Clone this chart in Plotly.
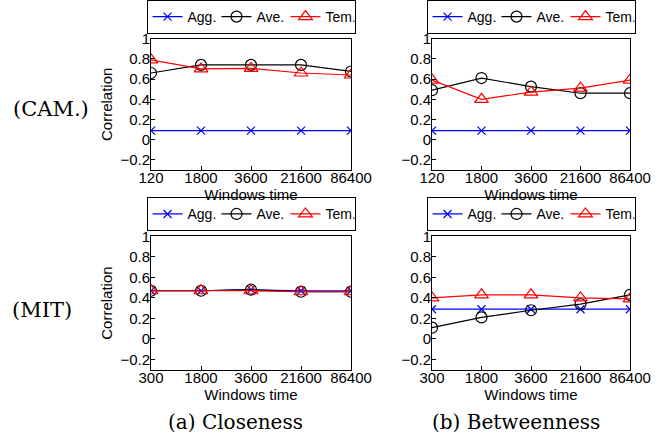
import plotly.graph_objects as go

windows_cam = ["120", "1800", "3600", "21600", "86400"]
windows_mit = ["300", "1800", "3600", "21600", "86400"]

# CAM closeness
cam_clo_agg = [0.09, 0.09, 0.09, 0.09, 0.09]
cam_clo_ave = [0.66, 0.74, 0.74, 0.74, 0.675]
cam_clo_tem = [0.79, 0.70, 0.705, 0.66, 0.64]
# CAM betweenness
cam_bet_agg = [0.09, 0.09, 0.09, 0.09, 0.09]
cam_bet_ave = [0.49, 0.61, 0.525, 0.46, 0.46]
cam_bet_tem = [0.59, 0.40, 0.47, 0.51, 0.59]
# MIT closeness
mit_clo_agg = [0.47, 0.47, 0.48, 0.47, 0.47]
mit_clo_ave = [0.47, 0.47, 0.48, 0.46, 0.46]
mit_clo_tem = [0.47, 0.47, 0.47, 0.46, 0.46]
# MIT betweenness
mit_bet_agg = [0.29, 0.29, 0.29, 0.29, 0.29]
mit_bet_ave = [0.11, 0.21, 0.28, 0.34, 0.43]
mit_bet_tem = [0.40, 0.43, 0.43, 0.40, 0.39]

ytick_vals = [-0.2, 0, 0.2, 0.4, 0.6, 0.8, 1]
ytick_text = ["\u22120.2", "0", "0.2", "0.4", "0.6", "0.8", "1"]

series_names = ["Agg.", "Ave.", "Tem."]
colors = ["#0000ff", "#000000", "#ff0000"]
symbols = ["x-thin-open", "circle-open", "triangle-up-open"]
sizes = [8, 11, 12]

FONT = "Liberation Sans, Arial, sans-serif"
SERIF = "DejaVu Serif, serif"

panels = [
    (windows_cam, [cam_clo_agg, cam_clo_ave, cam_clo_tem]),
    (windows_cam, [cam_bet_agg, cam_bet_ave, cam_bet_tem]),
    (windows_mit, [mit_clo_agg, mit_clo_ave, mit_clo_tem]),
    (windows_mit, [mit_bet_agg, mit_bet_ave, mit_bet_tem]),
]

W, H = 663, 436
xdom = [(151 / W, 351 / W), (432 / W, 630 / W)]
ydom = [(1 - 167 / H, 1 - 34 / H), (1 - 369 / H, 1 - 234 / H)]
legend_bottom = [1 - 29 / H, 1 - 229 / H]

fig = go.Figure()
layout = dict(
    template="none",
    width=W, height=H, margin=dict(l=0, r=0, t=0, b=0, pad=0),
    paper_bgcolor="white", plot_bgcolor="white",
    font=dict(family=FONT, size=14, color="black"),
    showlegend=True,
)

for i, (cats, vals) in enumerate(panels):
    row, col = divmod(i, 2)
    k = i + 1
    xa = "x" if k == 1 else f"x{k}"
    ya = "y" if k == 1 else f"y{k}"
    leg = "legend" if k == 1 else f"legend{k}"
    for s in range(3):
        fig.add_trace(go.Scatter(
            x=list(range(len(cats))), y=vals[s], mode="lines+markers",
            name=series_names[s], xaxis=xa, yaxis=ya, legend=leg,
            line=dict(color=colors[s], width=1.2),
            marker=dict(symbol=symbols[s], size=sizes[s], color=colors[s],
                        line=dict(color=colors[s], width=1.2)),
        ))
    xkey = "xaxis" if k == 1 else f"xaxis{k}"
    ykey = "yaxis" if k == 1 else f"yaxis{k}"
    layout[xkey] = dict(
        domain=list(xdom[col]), anchor=ya, range=[0, len(cats) - 1],
        tickmode="array", tickvals=list(range(len(cats))), ticktext=cats,
        showline=True, linecolor="black", linewidth=1, mirror=True,
        ticks="inside", ticklen=4, tickcolor="black", showgrid=False,
        zeroline=False, tickfont=dict(size=15), automargin=False,
        ticklabelstandoff=-6,
        title=dict(text="Windows time", font=dict(size=15), standoff=0),
    )
    layout[ykey] = dict(
        domain=list(ydom[row]), anchor=xa, range=[-0.3, 1],
        tickmode="array", tickvals=ytick_vals, ticktext=ytick_text,
        showline=True, linecolor="black", linewidth=1, mirror=True,
        ticks="inside", ticklen=4, tickcolor="black", showgrid=False,
        zeroline=False, tickfont=dict(size=15), automargin=False,
        ticklabelstandoff=-3,
        title=dict(text="Correlation" if col == 0 else "", font=dict(size=15), standoff=4),
    )
    layout[leg] = dict(
        orientation="h", x=(xdom[col][0] + xdom[col][1]) / 2, xanchor="center",
        y=legend_bottom[row], yanchor="bottom", bgcolor="white",
        bordercolor="black", borderwidth=1, font=dict(size=14),
        itemwidth=30, tracegroupgap=0, entrywidth=24,
    )

layout["annotations"] = [
    dict(text="(CAM.)", x=51 / W, y=1 - 105 / H, xref="paper", yref="paper",
         xanchor="center", yanchor="middle",
         showarrow=False, font=dict(family=SERIF, size=21)),
    dict(text="(MIT)", x=42 / W, y=1 - 309 / H, xref="paper", yref="paper",
         xanchor="center", yanchor="middle",
         showarrow=False, font=dict(family=SERIF, size=21)),
    dict(text="(a) Closeness", x=235 / W, y=1 - 422 / H,
         xref="paper", yref="paper", xanchor="center", yanchor="middle",
         showarrow=False, font=dict(family=SERIF, size=20)),
    dict(text="(b) Betweenness", x=516 / W, y=1 - 422 / H,
         xref="paper", yref="paper", xanchor="center", yanchor="middle",
         showarrow=False, font=dict(family=SERIF, size=20)),
]

fig.update_layout(**layout)
fig.write_html("out.html", config={"displayModeBar": False},
               post_script="document.body.style.margin='0px';")
